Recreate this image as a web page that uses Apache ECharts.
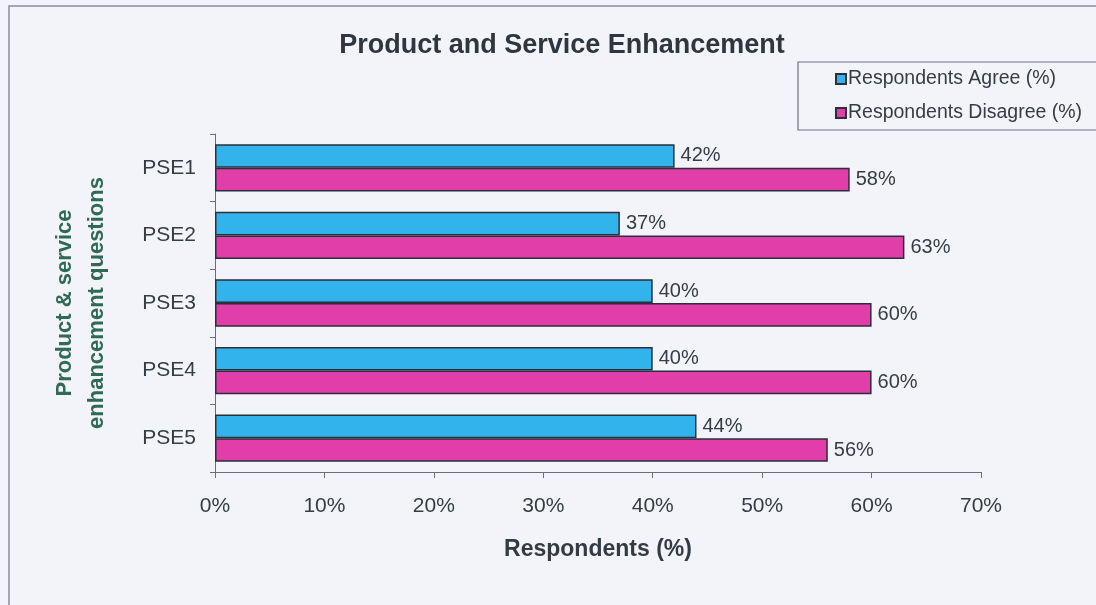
<!DOCTYPE html>
<html>
<head>
<meta charset="utf-8">
<title>Product and Service Enhancement</title>
<script src="https://cdn.jsdelivr.net/npm/echarts@6/dist/echarts.min.js"></script>
<style>
  html, body { margin: 0; padding: 0; background: #f3f4f9; }
  #chart { width: 1096px; height: 605px; }
</style>
</head>
<body>
<div id="chart"></div>
<script>
// Questions on the category axis, top to bottom
const questions = ['PSE1', 'PSE2', 'PSE3', 'PSE4', 'PSE5'];
// Share of respondents, in percent
const agreePct = [42, 37, 40, 40, 44];
const disagreePct = [58, 63, 60, 60, 56];
const seriesNames = ['Respondents Agree (%)', 'Respondents Disagree (%)'];
const xTicks = [0, 10, 20, 30, 40, 50, 60, 70];

const font = 'Arial, "Liberation Sans", Helvetica, sans-serif';
const textColor = '#353c47';

const chart = echarts.init(document.getElementById('chart'), null, { renderer: 'canvas' });

const labelStyle = {
  show: true,
  position: 'right',
  distance: 6,
  formatter: p => p.value + '%',
  color: textColor,
  fontFamily: font,
  fontSize: 20
};

chart.setOption({
  backgroundColor: '#f3f4f9',
  animation: false,
  title: {
    text: 'Product and Service Enhancement',
    left: 557,
    top: 27,
    textAlign: 'center',
    textStyle: { fontFamily: font, fontSize: 27, fontWeight: 'bold', color: '#2f3640' }
  },
  legend: {
    orient: 'vertical',
    left: 830,
    top: 64,
    itemWidth: 10,
    itemHeight: 10,
    itemGap: 14,
    icon: 'rect',
    data: seriesNames,
    textStyle: { fontFamily: font, fontSize: 19.5, color: textColor, padding: [0, 0, 0, -3] }
  },
  graphic: [
    {
      type: 'rect', z: -1, silent: true,
      shape: { x: 9, y: 6, width: 1100, height: 610 },
      style: { fill: 'none', stroke: '#8a8d94', lineWidth: 1.5 }
    },
    {
      type: 'rect', z: -1, silent: true,
      shape: { x: 798, y: 62, width: 310, height: 68 },
      style: { fill: '#f3f4f9', stroke: '#6d7078', lineWidth: 1.2 }
    }
  ],
  grid: { left: 215, right: 115, top: 134, bottom: 133, containLabel: false },
  xAxis: {
    type: 'value',
    min: xTicks[0],
    max: xTicks[xTicks.length - 1],
    interval: 10,
    name: 'Respondents (%)',
    nameLocation: 'middle',
    nameGap: 66,
    nameTextStyle: { fontFamily: font, fontSize: 23, fontWeight: 'bold', color: '#343b45' },
    axisLine: { show: true, lineStyle: { color: '#6b6e74', width: 1 } },
    axisTick: { show: true, inside: false, length: 6, lineStyle: { color: '#6b6e74' } },
    splitLine: { show: false },
    axisLabel: {
      formatter: v => v + '%',
      margin: 24,
      fontFamily: font,
      fontSize: 21,
      color: textColor
    }
  },
  yAxis: {
    type: 'category',
    data: questions,
    inverse: true,
    name: 'Product & service\nenhancement questions',
    nameLocation: 'middle',
    nameGap: 102,
    nameRotate: 90,
    nameTextStyle: { fontFamily: font, fontSize: 22, fontWeight: 'bold', color: '#2f6a55', lineHeight: 32 },
    axisLine: { show: true, lineStyle: { color: '#6b6e74', width: 1 } },
    axisTick: { show: true, length: 5, alignWithLabel: false, lineStyle: { color: '#6b6e74' } },
    axisLabel: { margin: 19, fontFamily: font, fontSize: 21, color: textColor }
  },
  series: [
    {
      name: seriesNames[0],
      type: 'bar',
      data: agreePct,
      barGap: '0%',
      barCategoryGap: '30%',
      itemStyle: { color: '#33b3ec', borderColor: '#2b2f3a', borderWidth: 1.5 },
      label: labelStyle
    },
    {
      name: seriesNames[1],
      type: 'bar',
      data: disagreePct,
      barGap: '0%',
      barCategoryGap: '30%',
      itemStyle: { color: '#e13ea9', borderColor: '#2b2f3a', borderWidth: 1.5 },
      label: labelStyle
    }
  ]
});
</script>
</body>
</html>
